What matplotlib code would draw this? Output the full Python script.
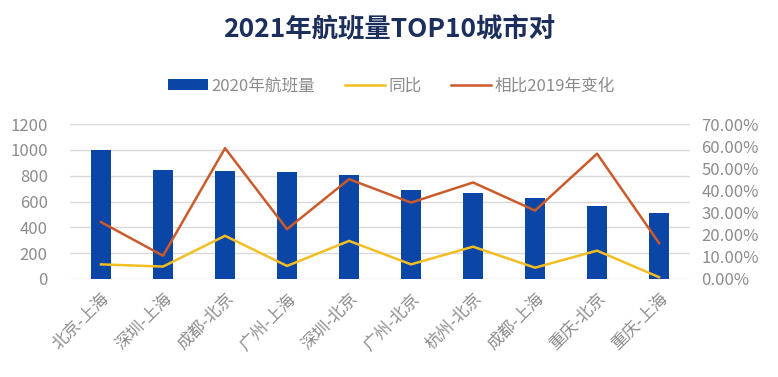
import matplotlib.pyplot as plt
from matplotlib.ticker import PercentFormatter

plt.rcParams['font.family'] = ['Noto Sans CJK SC', 'DejaVu Sans']

# 航线与数据
routes = ['北京-上海', '深圳-上海', '成都-北京', '广州-上海', '深圳-北京',
          '广州-北京', '杭州-北京', '成都-上海', '重庆-北京', '重庆-上海']
flights_2020 = [1000, 843, 838, 830, 807, 690, 667, 628, 566, 514]
yoy = [0.066, 0.056, 0.195, 0.059, 0.172, 0.066, 0.146, 0.051, 0.128, 0.008]
vs_2019 = [0.257, 0.105, 0.591, 0.225, 0.451, 0.345, 0.436, 0.309, 0.566, 0.162]

gray = '#8C8C8C'
fig = plt.figure(figsize=(7.78, 3.77), dpi=100)
ax1 = fig.add_axes([0.09, 0.26, 0.797, 0.411])
ax2 = ax1.twinx()

x = range(len(routes))
b = ax1.bar(x, flights_2020, width=0.33, color='#0B45A6', zorder=2, label='2020年航班量')
l1, = ax2.plot(x, yoy, color='#F2BE22', lw=1.8, label='同比')
l2, = ax2.plot(x, vs_2019, color='#CB5B2A', lw=1.8, label='相比2019年变化')

ax1.set_ylim(0, 1200)
ax1.set_yticks(range(0, 1201, 200))
ax2.set_ylim(0, 0.7)
ax2.set_yticks([i / 10 for i in range(8)])
ax2.yaxis.set_major_formatter(PercentFormatter(1.0, decimals=2))
ax1.set_xlim(-0.5, len(routes) - 0.5)
ax1.set_xticks(list(x))
ax1.set_xticklabels(routes, rotation=45, ha='right', rotation_mode='anchor')

ax1.grid(axis='y', color='#D9D9D9', lw=1, zorder=0)
for a in (ax1, ax2):
    for s in a.spines.values():
        s.set_visible(False)
    a.tick_params(length=0, colors=gray, labelsize=12)
ax1.tick_params(axis='y', pad=16)
ax1.tick_params(axis='x', pad=8)
ax2.tick_params(axis='y', pad=8)

fig.text(0.5, 0.92, '2021年航班量TOP10城市对', ha='center', va='center',
         fontsize=19, fontweight='bold', color='#1C2F5C')
fig.legend(handles=[b, l1, l2], loc='center', bbox_to_anchor=(0.503, 0.772),
           ncol=3, frameon=False, fontsize=12, labelcolor=gray,
           handlelength=2.4, handletextpad=0.2, columnspacing=1.8)

plt.savefig('out.png', dpi=100)
